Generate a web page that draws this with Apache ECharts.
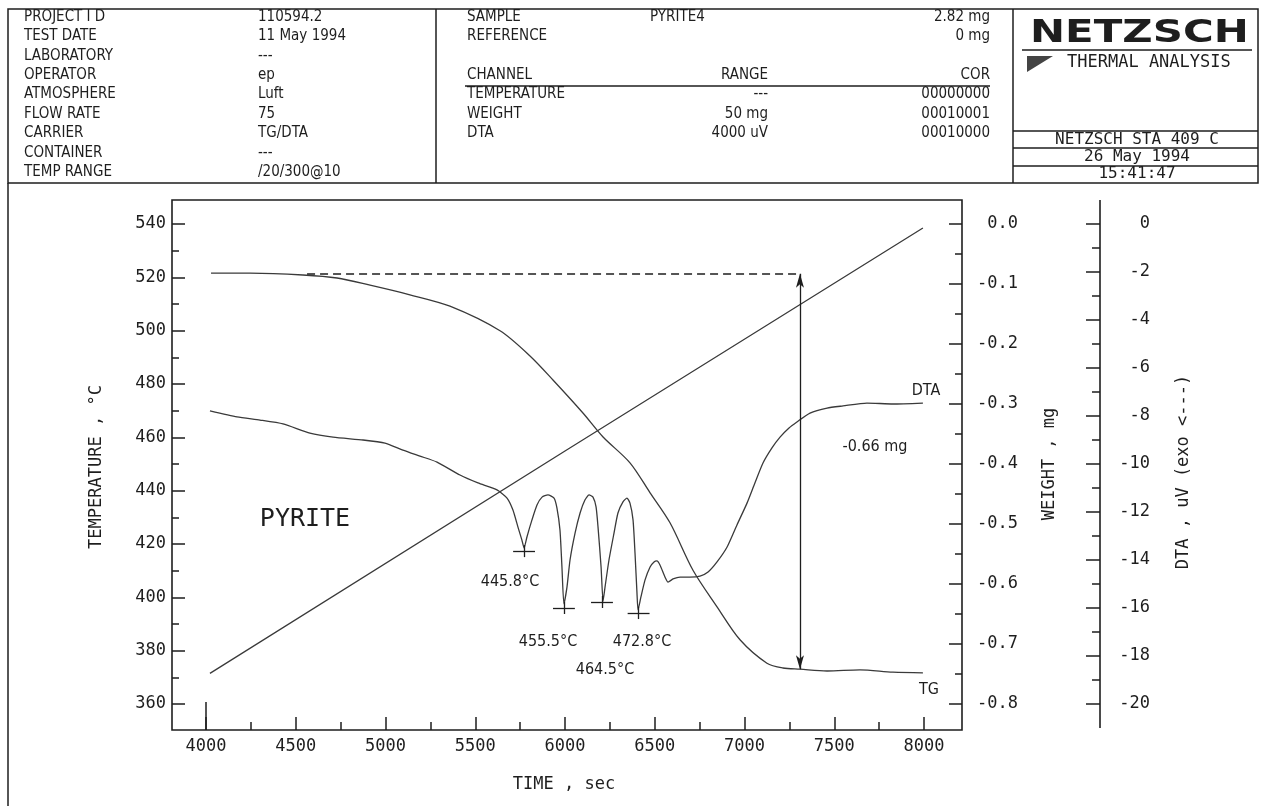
<!DOCTYPE html>
<html>
<head>
<meta charset="utf-8">
<script src="https://cdn.jsdelivr.net/npm/echarts@6/dist/echarts.min.js"></script>
<style>
	html,body{margin:0;padding:0;background:#fff;}
	#chart{width:1261px;height:806px;}
</style>
</head>
<body>
<div id="chart"></div>
<script>
// axis ticks
var timeTicks = [4000, 4500, 5000, 5500, 6000, 6500, 7000, 7500, 8000];
var tempTicks = [360, 380, 400, 420, 440, 460, 480, 500, 520, 540];
var weightTicks = [0, -0.1, -0.2, -0.3, -0.4, -0.5, -0.6, -0.7, -0.8];
var dtaTicks = [0, -2, -4, -6, -8, -10, -12, -14, -16, -18, -20];

// temperature (sec, °C)
var tempTime = [4022, 6000, 7994];
var tempValue = [371.5, 454.9, 538.5];

// TG (sec, mg)
var tgTime = [4028, 4245, 4540, 4730, 4914, 5136, 5359, 5638, 5805, 5933, 6100, 6212, 6362, 6474, 6585, 6713, 6847, 6975, 7125, 7214, 7309, 7460, 7643, 7827, 7994];
var tgWeight = [-0.082, -0.082, -0.085, -0.090, -0.102, -0.118, -0.137, -0.178, -0.220, -0.260, -0.315, -0.355, -0.398, -0.448, -0.498, -0.577, -0.638, -0.693, -0.732, -0.740, -0.742, -0.745, -0.743, -0.747, -0.748];

// DTA (sec, uV)
var dtaTime = [4022, 4173, 4301, 4429, 4579, 4708, 4875, 4997, 5097, 5192, 5287, 5415, 5515, 5621, 5677, 5710, 5738, 5760, 5772,
	5788, 5816, 5844, 5872, 5905, 5939, 5955, 5972, 5983, 5994,
	6011, 6028, 6056, 6084, 6111, 6134, 6156, 6173, 6184, 6201, 6212,
	6223, 6245, 6273, 6295, 6323, 6345, 6362, 6379, 6390, 6401, 6407,
	6423, 6446, 6474, 6496, 6512, 6529, 6557, 6574, 6602, 6641, 6696, 6752, 6797, 6847, 6903, 6958, 7014, 7058, 7103, 7153, 7198, 7248, 7292, 7365, 7460, 7549, 7682, 7827, 7994];
var dtaSignal = [-7.79, -8.04, -8.17, -8.33, -8.71, -8.88, -9.00, -9.13, -9.42, -9.67, -9.92, -10.46, -10.79, -11.08, -11.42, -11.92, -12.63, -13.17, -13.50,
	-13.04, -12.33, -11.71, -11.38, -11.29, -11.42, -11.83, -12.75, -14.29, -15.83,
	-15.13, -14.00, -12.88, -12.04, -11.50, -11.29, -11.38, -11.79, -12.63, -14.29, -15.71,
	-15.13, -14.00, -12.88, -12.04, -11.58, -11.42, -11.63, -12.33, -13.71, -15.38, -16.08,
	-15.54, -14.83, -14.29, -14.08, -14.04, -14.21, -14.71, -14.92, -14.79, -14.71, -14.71, -14.67, -14.50, -14.08, -13.46, -12.54, -11.63, -10.79, -9.96, -9.33, -8.88, -8.50, -8.25, -7.88, -7.67, -7.58, -7.46, -7.50, -7.46];

// DTA peak markers
var peakTime = [5772, 5994, 6206, 6410];
var peakLevel = [-13.63, -16.0, -15.75, -16.21];

// TG step
var stepFrom = 4563, stepTime = 7309, stepTop = -0.083, stepBottom = -0.742;

function zip(a, b){ return a.map(function(v, i){ return [v, b[i]]; }); }

var ink = '#1e1e1e';
var curve = '#3a3a3a';
var mono = '"DejaVu Sans Mono", monospace';
var sans = '"Liberation Sans Narrow", "DejaVu Sans Condensed", "Noto Sans", sans-serif';

var crossLines = [];
peakTime.forEach(function(t, i){
	var m = peakLevel[i];
	crossLines.push([{coord: [t - 61, m]}, {coord: [t + 61, m]}]);
	crossLines.push([{coord: [t, m + 0.25]}, {coord: [t, m - 0.25]}]);
});

function txt(x, y, s, font, align, extra){
	var o = {type: 'text', x: x, y: y, silent: true, style: {text: s, font: font, fill: ink, textAlign: align || 'left', textVerticalAlign: 'middle'}};
	if (extra) for (var k in extra) o[k] = extra[k];
	return o;
}
function seg(x1, y1, x2, y2, w, color){
	return {type: 'line', silent: true, shape: {x1: x1, y1: y1, x2: x2, y2: y2}, style: {stroke: color || ink, lineWidth: w || 1.5}};
}

var hdFont = '15px ' + sans;
var rowY = function(i){ return 17 + 19.4 * i; };
var leftRows = [
	['PROJECT I D', '110594.2'], ['TEST DATE', '11 May 1994'], ['LABORATORY', '---'], ['OPERATOR', 'ep'],
	['ATMOSPHERE', 'Luft'], ['FLOW RATE', '75'], ['CARRIER', 'TG/DTA'], ['CONTAINER', '---'], ['TEMP RANGE', '/20/300@10']
];
var midRows = [
	[0, 'SAMPLE', 'PYRITE4', '2.82 mg'], [1, 'REFERENCE', '', '0 mg'],
	[3, 'CHANNEL', 'RANGE', 'COR'], [4, 'TEMPERATURE', '---', '00000000'],
	[5, 'WEIGHT', '50 mg', '00010001'], [6, 'DTA', '4000 uV', '00010000']
];

var graphics = [];
// header frame
graphics.push({type: 'rect', silent: true, shape: {x: 8, y: 9, width: 1250, height: 174}, style: {fill: 'none', stroke: ink, lineWidth: 1.5}});
graphics.push(seg(436, 9, 436, 183));
graphics.push(seg(1013, 9, 1013, 183));
graphics.push(seg(8, 183, 8, 806));
leftRows.forEach(function(r, i){
	graphics.push(txt(24, rowY(i), r[0], hdFont));
	graphics.push(txt(258, rowY(i), r[1], hdFont));
});
midRows.forEach(function(r){
	var y = rowY(r[0]);
	graphics.push(txt(467, y, r[1], hdFont));
	if (r[0] === 0) graphics.push(txt(650, y, r[2], hdFont));
	else if (r[2]) graphics.push(txt(768, y, r[2], hdFont, 'right'));
	graphics.push(txt(990, y, r[3], hdFont, 'right'));
});
graphics.push(seg(465, 86, 990, 86, 1.3));
// NETZSCH box
graphics.push(txt(1030, 34, 'NETZSCH', 'bold 32px "DejaVu Sans", sans-serif', 'left', {scaleX: 1.31}));
graphics.push(seg(1022, 50, 1252, 50, 2, '#555'));
graphics.push({type: 'polygon', silent: true, shape: {points: [[1027, 56], [1053, 56], [1027, 72]]}, style: {fill: '#444'}});
graphics.push(txt(1067, 63, 'THERMAL ANALYSIS', '17px ' + mono));
graphics.push(seg(1013, 131, 1258, 131, 1.3));
graphics.push(seg(1013, 148, 1258, 148, 1.3));
graphics.push(seg(1013, 166, 1258, 166, 1.3));
graphics.push(txt(1137, 140, 'NETZSCH STA 409 C', '16px ' + mono, 'center'));
graphics.push(txt(1137, 157, '26 May 1994', '16px ' + mono, 'center'));
graphics.push(txt(1137, 174, '15:41:47', '16px ' + mono, 'center'));
// plot frame, first time tick and DTA axis line
graphics.push({type: 'rect', silent: true, shape: {x: 172, y: 200, width: 790, height: 530}, style: {fill: 'none', stroke: ink, lineWidth: 1.6}});
graphics.push(seg(206, 702, 206, 730, 1.5));
graphics.push(seg(1100, 200, 1100, 728, 1.6));
// axis names
graphics.push(txt(97, 467, 'TEMPERATURE , °C', '17px ' + mono, 'center', {rotation: Math.PI / 2}));
graphics.push(txt(1050, 464, 'WEIGHT , mg', '17px ' + mono, 'center', {rotation: Math.PI / 2}));
graphics.push(txt(1184, 472, 'DTA , uV (exo <---)', '17px ' + mono, 'center', {rotation: Math.PI / 2}));
graphics.push(txt(564, 785, 'TIME , sec', '17px ' + mono, 'center'));
// annotations
var annFont = '16px ' + sans;
graphics.push(txt(305, 519, 'PYRITE', '25px ' + mono, 'center'));
graphics.push(txt(510, 582, '445.8°C', annFont, 'center'));
graphics.push(txt(548, 642, '455.5°C', annFont, 'center'));
graphics.push(txt(642, 642, '472.8°C', annFont, 'center'));
graphics.push(txt(605, 670, '464.5°C', annFont, 'center'));
graphics.push(txt(875, 447, '-0.66 mg', annFont, 'center'));
graphics.push(txt(926, 391, 'DTA', annFont, 'center'));
graphics.push(txt(929, 690, 'TG', annFont, 'center'));

var tickStyle = {color: ink, width: 1.5};
var labelStyle = {color: ink, fontFamily: mono, fontSize: 17};
var plain = function(v){ return String(v); };

var chart = echarts.init(document.getElementById('chart'));
chart.setOption({
	animation: false,
	backgroundColor: '#fff',
	grid: {left: 206, right: 337, top: 224, bottom: 102, outerBoundsMode: 'none'},
	xAxis: {
		type: 'value', min: timeTicks[0], max: timeTicks[timeTicks.length - 1], interval: timeTicks[1] - timeTicks[0],
		position: 'bottom', offset: 26,
		axisLine: {show: false, onZero: false}, splitLine: {show: false},
		axisTick: {show: true, inside: true, length: 13, lineStyle: tickStyle},
		minorTick: {show: true, splitNumber: 2, length: 8, lineStyle: tickStyle},
		axisLabel: Object.assign({margin: 8, formatter: plain}, labelStyle)
	},
	yAxis: [{
		type: 'value', min: tempTicks[0], max: tempTicks[tempTicks.length - 1], interval: 20,
		position: 'left', offset: 34,
		axisLine: {show: false, onZero: false}, splitLine: {show: false},
		axisTick: {show: true, inside: true, length: 13, lineStyle: tickStyle},
		minorTick: {show: true, splitNumber: 2, length: 7, lineStyle: tickStyle},
		axisLabel: Object.assign({margin: 6, formatter: plain}, labelStyle)
	}, {
		type: 'value', min: weightTicks[weightTicks.length - 1], max: weightTicks[0], interval: 0.1,
		position: 'right', offset: 38,
		axisLine: {show: false, onZero: false}, splitLine: {show: false},
		axisTick: {show: true, inside: true, length: 13, lineStyle: tickStyle},
		minorTick: {show: true, splitNumber: 2, length: 7, lineStyle: tickStyle},
		axisLabel: Object.assign({margin: 56, align: 'right', formatter: function(v){ return v.toFixed(1); }}, labelStyle)
	}, {
		type: 'value', min: dtaTicks[dtaTicks.length - 1], max: dtaTicks[0], interval: 2,
		position: 'right', offset: 176,
		axisLine: {show: false, onZero: false}, splitLine: {show: false},
		axisTick: {show: true, inside: true, length: 14, lineStyle: tickStyle},
		minorTick: {show: true, splitNumber: 2, length: 8, lineStyle: tickStyle},
		axisLabel: Object.assign({margin: 50, align: 'right', formatter: plain}, labelStyle)
	}],
	series: [{
		name: 'Temperature', type: 'line', yAxisIndex: 0,
		data: zip(tempTime, tempValue), showSymbol: false, symbol: 'none',
		lineStyle: {color: curve, width: 1.3}, silent: true
	}, {
		name: 'TG', type: 'line', yAxisIndex: 1,
		data: zip(tgTime, tgWeight), showSymbol: false, symbol: 'none', smooth: 0.3,
		lineStyle: {color: curve, width: 1.3}, silent: true,
		markLine: {
			silent: true, symbol: ['none', 'none'], label: {show: false},
			lineStyle: {color: ink, width: 1.3, type: 'solid'},
			data: [
				[{coord: [stepFrom, stepTop], lineStyle: {type: [8, 5], color: ink, width: 1.5}}, {coord: [stepTime, stepTop], lineStyle: {type: [8, 5], color: ink, width: 1.5}}],
				[{coord: [stepTime, stepTop], symbol: 'arrow', symbolSize: [6, 14]}, {coord: [stepTime, stepBottom], symbol: 'arrow', symbolSize: [6, 14]}]
			]
		}
	}, {
		name: 'DTA', type: 'line', yAxisIndex: 2,
		data: zip(dtaTime, dtaSignal), showSymbol: false, symbol: 'none', smooth: 0.2,
		lineStyle: {color: curve, width: 1.3}, silent: true,
		markLine: {
			silent: true, symbol: ['none', 'none'], label: {show: false},
			lineStyle: {color: ink, width: 1.3, type: 'solid'},
			data: crossLines
		}
	}],
	graphic: graphics
});
</script>
</body>
</html>
